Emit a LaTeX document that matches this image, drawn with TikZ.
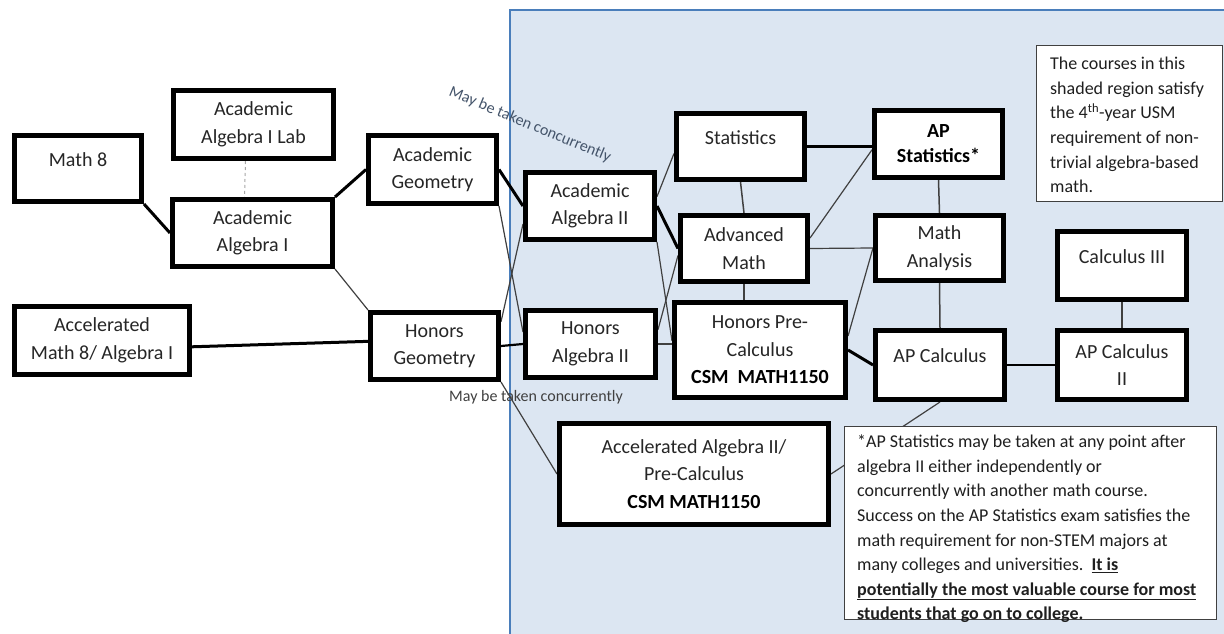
\documentclass[tikz,border=0pt]{standalone}
\usepackage{fontspec}
\setmainfont{Carlito}
\usetikzlibrary{calc}

\definecolor{regionfill}{HTML}{DCE6F2}
\definecolor{regionline}{HTML}{4A7EBB}
\definecolor{inkgray}{HTML}{404040}
\definecolor{boxtext}{HTML}{262626}
\definecolor{slate}{HTML}{44546A}
\definecolor{labdash}{HTML}{A6A6A6}

\pgfdeclarelayer{shade}
\pgfdeclarelayer{edges}
\pgfsetlayers{shade,edges,main}

\begin{document}
\begin{tikzpicture}[x=1pt,y=-1pt,
  course/.style={draw=black, line width=5pt, fill=white, align=center,
    text=boxtext, font=\fontsize{20}{27.5}\selectfont, inner sep=2pt,
    minimum width=128pt, minimum height=67pt},
  raised/.style={text depth=18pt},
  majorlink/.style={line width=3pt, black},
  midlink/.style={line width=2.2pt, black},
  minorlink/.style={line width=1.2pt, inkgray},
  stemlink/.style={line width=1.5pt, inkgray},
  notebox/.style={draw=inkgray, line width=1.2pt, fill=white, inner sep=0pt},
  notetext/.style={align=left, inner sep=0pt, text=black!88,
    font=\fontsize{18}{24.6}\selectfont},
  concur/.style={inner sep=0pt, font=\fontsize{16}{19}\selectfont, text=inkgray}
]
\useasboundingbox (0,0) rectangle (1224,634);

% shaded region of fourth-year courses
\begin{pgfonlayer}{shade}
  \fill[white] (0,0) rectangle (1224,634);
  \filldraw[fill=regionfill, draw=regionline, line width=1.5pt]
    (510,10) rectangle (1240,650);
\end{pgfonlayer}

% course boxes
\node[course, raised, minimum width=127pt, minimum height=66pt] (math8) at (78,168.5) {Math 8};
\node[course, minimum width=160pt, minimum height=68pt] (lab) at (253.5,124.5) {Academic\\Algebra I Lab};
\node[course, minimum width=160pt] (alg1) at (252.5,233) {Academic\\Algebra I};
\node[course, minimum height=68pt] (acgeo) at (432.5,169.5) {Academic\\Geometry};
\node[course, minimum width=175pt, minimum height=68pt] (accel8) at (102,340.5) {Accelerated\\Math 8/ Algebra I};
\node[course] (hongeo) at (434.5,346) {Honors\\Geometry};
\node[course, minimum width=129pt] (acalg2) at (590,206) {Academic\\Algebra II};
\node[course, minimum width=130pt] (honalg2) at (590.5,344) {Honors\\Algebra II};
\node[course, raised, minimum height=66pt] (stats) at (740.5,146.5) {Statistics};
\node[course, minimum width=127pt, minimum height=66pt] (advmath) at (744,248.5) {Advanced\\Math};
\node[course, minimum width=171pt, minimum height=95pt] (honpre) at (760,350)
  {Honors Pre-\\Calculus\\\textbf{\color{black}CSM\ \ MATH1150}};
\node[course, font=\fontsize{20}{25}\selectfont] (apstat) at (938.5,144)
  {\textbf{\color{black}AP}\\\textbf{\color{black}Statistics*}};
\node[course, minimum height=65pt] (mathan) at (939.5,248) {Math\\Analysis};
\node[course, raised, minimum width=129pt, minimum height=69pt] (apcalc) at (940,365) {AP Calculus};
\node[course, raised, minimum width=129pt, minimum height=68pt] (calc3) at (1122,265.5) {Calculus III};
\node[course, minimum width=129pt, minimum height=69pt] (apcalc2) at (1122,365) {AP Calculus\\II};
\node[course, minimum width=269pt, minimum height=101pt] (accel2) at (694,474)
  {Accelerated Algebra II/\\Pre-Calculus\\\textbf{\color{black}CSM MATH1150}};

% connectors between courses
\begin{pgfonlayer}{edges}
  \draw[labdash, line width=1pt, dashed] ([xshift=-8pt]lab.south) -- ([xshift=-8pt]alg1.north);
  \draw[majorlink] (math8.south east) -- (alg1.west);
  \draw[majorlink] (alg1.north east) -- (acgeo.west);
  \draw[minorlink] (alg1.south east) -- (hongeo.north west);
  \draw[majorlink] (accel8.-4) -- (hongeo.176);
  \draw[majorlink] (acgeo.east) -- (acalg2.west);
  \draw[minorlink] (acgeo.south east) -- (honalg2.170);
  \draw[minorlink] (hongeo.20) -- (acalg2.195);
  \draw[midlink] (hongeo.east) -- (honalg2.west);
  \draw[minorlink] (hongeo.south east) -- (accel2.west);
  \draw[minorlink] (acalg2.8) -- (stats.186);
  \draw[majorlink] (acalg2.east) -- (advmath.west);
  \draw[minorlink] (acalg2.south east) -- (honpre.174);
  \draw[minorlink] (honalg2.12) -- (advmath.186);
  \draw[minorlink] (honalg2.east) -- (honalg2.east -| honpre.west);
  \draw[stemlink] (stats.south) -- (advmath.north);
  \draw[stemlink] (advmath.south) -- (advmath.south |- honpre.north);
  \draw[midlink] (stats.east) -- (stats.east -| apstat.west);
  \draw[minorlink] (advmath.9) -- (apstat.185);
  \draw[minorlink] (advmath.east) -- (mathan.west);
  \draw[minorlink] (honpre.9) -- (mathan.west);
  \draw[majorlink] (honpre.east) -- (apcalc.west);
  \draw[stemlink] (apstat.south) -- (mathan.north);
  \draw[stemlink] (mathan.south) -- (apcalc.north);
  \draw[stemlink] (calc3.south) -- (apcalc2.north);
  \draw[midlink] (apcalc.east) -- (apcalc2.west);
  \draw[minorlink] (accel2.east) -- (apcalc.south);
\end{pgfonlayer}

% concurrency remarks
\node[concur, text=slate, rotate=-22.5] (concurtop) at (530,125) {May be taken concurrently};
\node[concur] (concurlow) at (536,397) {May be taken concurrently};

% explanatory notes
\node[notebox, minimum width=186pt, minimum height=156pt] (scopebox) at (1129.5,123.5) {};
\node[notetext, anchor=west] (scopetext) at (1050,125)
  {The courses in this\\shaded region satisfy\\the 4\textsuperscript{th}-year USM\\requirement of non-\\trivial algebra-based\\math.};

\node[notebox, minimum width=372pt, minimum height=193pt] (apnote) at (1030.5,523) {};
\node[notetext, anchor=west] (apnotetext) at (857,529)
  {*AP Statistics may be taken at any point after\\
   algebra II either independently or\\
   concurrently with another math course.\\
   Success on the AP Statistics exam satisfies the\\
   math requirement for non-STEM majors at\\
   many colleges and universities.\ \ \underline{\textbf{It is}}\\
   \underline{\textbf{potentially the most valuable course for most}}\\
   \textbf{students that go on to college.}};
\end{tikzpicture}
\end{document}
